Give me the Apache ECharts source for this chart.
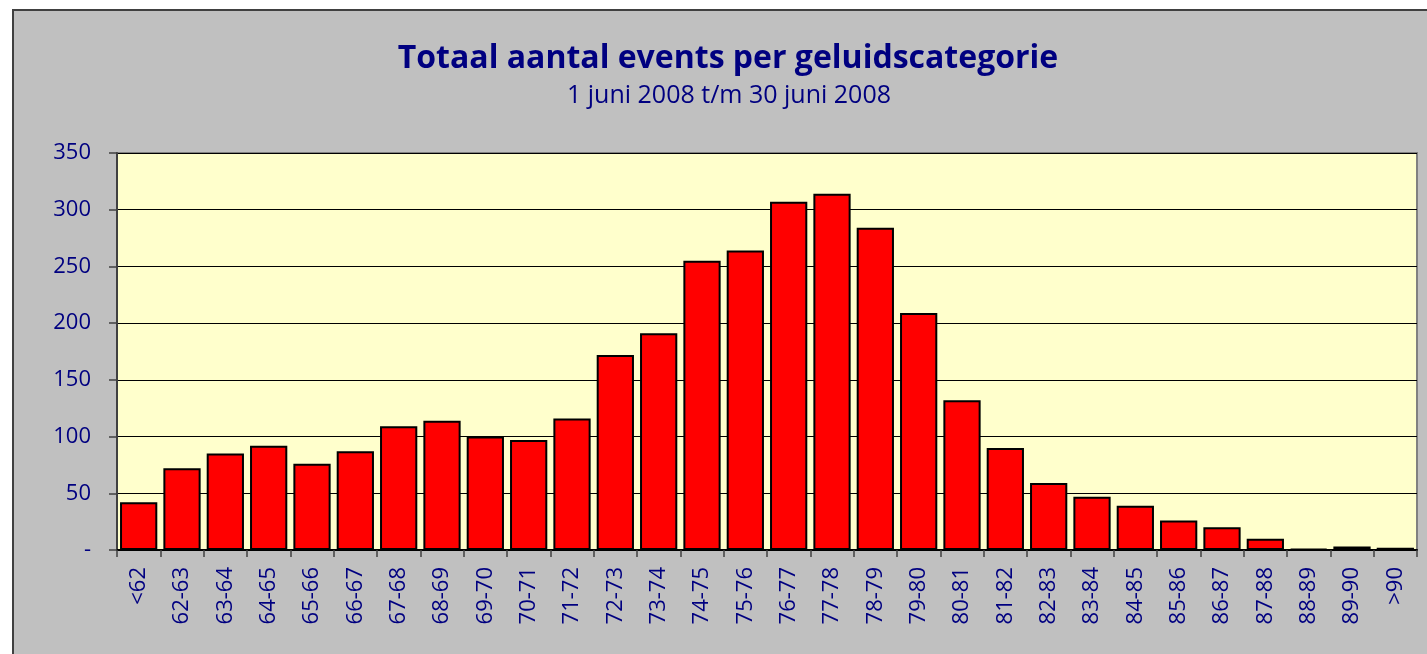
<!DOCTYPE html>
<html>
<head>
<meta charset="utf-8">
<script src="https://cdn.jsdelivr.net/npm/echarts@6/dist/echarts.min.js"></script>
<style>
html,body{margin:0;padding:0;background:#fff;}
#chart{width:1427px;height:654px;}
</style>
</head>
<body>
<div id="chart"></div>
<script>
const titleText = 'Totaal aantal events per geluidscategorie';
const subtitleText = '1 juni 2008 t/m 30 juni 2008';
const categories = ['<62','62-63','63-64','64-65','65-66','66-67','67-68','68-69','69-70','70-71',
  '71-72','72-73','73-74','74-75','75-76','76-77','77-78','78-79','79-80','80-81',
  '81-82','82-83','83-84','84-85','85-86','86-87','87-88','88-89','89-90','>90'];
const events = [42,72,85,92,76,87,109,114,100,97,
  116,172,191,255,264,307,314,284,209,132,
  90,59,47,39,26,20,10,1,3,2];
const yTicks = {min:0, max:350, interval:50};

const chart = echarts.init(document.getElementById('chart'));
const navy = '#000080';
const font = '"Open Sans", "DejaVu Sans", sans-serif';
chart.setOption({
  backgroundColor: '#ffffff',
  animation: false,
  graphic: [
    {type:'rect', z:-10, shape:{x:13, y:10, width:1500, height:700},
     style:{fill:'#c0c0c0', stroke:'#404040', lineWidth:2}},
    {type:'text', x:728, y:59, style:{text:titleText, fill:navy, font:'bold 32px ' + font, textAlign:'center', textVerticalAlign:'middle'}},
    {type:'text', x:729, y:96, style:{text:subtitleText, fill:navy, font:'25px ' + font, textAlign:'center', textVerticalAlign:'middle'}}
  ],
  grid: {left:117, top:153, right:10, bottom:104, show:true, backgroundColor:'#ffffcc', borderColor:'#808080', borderWidth:2},
  xAxis: {
    type:'category', data:categories,
    axisLine:{show:true, lineStyle:{color:'#000', width:2}},
    axisTick:{show:true, length:7, lineStyle:{color:'#404040', width:1.5}},
    axisLabel:{rotate:90, color:navy, fontSize:22, fontFamily:font, margin:17, interval:0}
  },
  yAxis: {
    type:'value', min:yTicks.min, max:yTicks.max, interval:yTicks.interval,
    axisLine:{show:true, lineStyle:{color:'#404040', width:2}},
    axisTick:{show:true, length:8, lineStyle:{color:'#404040', width:1.5}},
    splitLine:{show:true, lineStyle:{color:'#000', width:1}},
    axisLabel:{color:navy, fontSize:22, fontFamily:font, margin:26,
      formatter: v => v === 0 ? '-' : String(v)}
  },
  series: [{
    type:'bar', data:events, barCategoryGap:'14%',
    itemStyle:{color:'#ff0000', borderColor:'#000', borderWidth:2}
  }]
});
</script>
</body>
</html>
